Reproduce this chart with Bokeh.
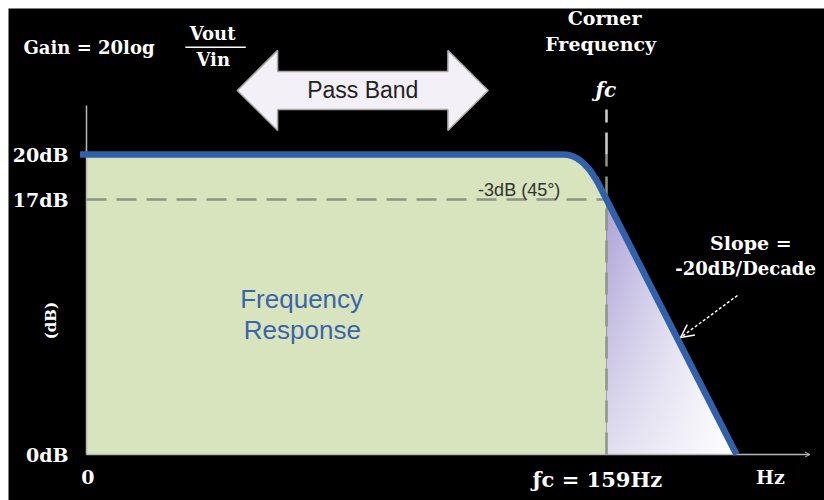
import numpy as np
from bokeh.plotting import figure
from bokeh.models import Label, Arrow, OpenHead, Range1d
from bokeh.embed import file_html
from bokeh.resources import INLINE

# ---------------- data ----------------
gain_ticks = [0, 17, 20]
gain_tick_labels = ["0dB", "17dB", "20dB"]
freq_ticks = [0.2, 105.2]
freq_tick_labels = ["0", "Hz"]
passband_gain_db = 20      # flat pass-band gain
cutoff_gain_db = 17        # -3 dB point
fc_pos = 80                # corner frequency position on the frequency scale
stop_pos = 100             # where the -20dB/decade roll-off reaches 0 dB
knee = [73.4, 79.0]        # start / end of the rounded knee
fc_label = "ƒc = 159Hz"

# ---------------- layout ----------------
W, H = 824, 500
PAD = 8                    # white border at top / left
PX_X, PX_Y = 6.5, 15.0     # pixels per unit
ORG_X, ORG_Y = 86, 454     # origin position (pixels from top-left of page)

p = figure(width=W, height=H, output_backend="svg", toolbar_location=None,
           x_range=Range1d((PAD - ORG_X) / PX_X, (W - ORG_X) / PX_X),
           y_range=Range1d((ORG_Y - H) / PX_Y, (ORG_Y - PAD) / PX_Y),
           x_axis_type=None, y_axis_type=None,
           min_border_left=PAD, min_border_top=PAD, min_border_right=0, min_border_bottom=0,
           background_fill_color="black", border_fill_color="white",
           outline_line_color=None)


def slope_y(x):
    return cutoff_gain_db * (stop_pos - np.asarray(x, float)) / (stop_pos - fc_pos)


# rounded knee (quadratic bezier)
knee_ctrl_x = stop_pos - passband_gain_db * (stop_pos - fc_pos) / cutoff_gain_db
t = np.linspace(0, 1, 16)
P0 = np.array([knee[0], passband_gain_db])
C = np.array([knee_ctrl_x, passband_gain_db])
P2 = np.array([knee[1], float(slope_y(knee[1]))])
bez = ((1 - t) ** 2)[:, None] * P0 + (2 * (1 - t) * t)[:, None] * C + (t ** 2)[:, None] * P2

# green pass-band area
gx = [0, 0] + list(bez[:, 0]) + [fc_pos, fc_pos]
gy = [0, passband_gain_db] + list(bez[:, 1]) + [cutoff_gain_db, 0]
p.patch(gx, gy, fill_color="#d7e4bd", line_color=None)

# purple gradient roll-off region
NX, NY = 130, 256
dw, dh = stop_pos - fc_pos, cutoff_gain_db
jj, ii = np.meshgrid(np.arange(NX), np.arange(NY))
xx = fc_pos + (jj + 0.5) / NX * dw
yy = (ii + 0.5) / NY * dh
u = (xx - fc_pos) / dw
v = yy / dh
s = np.clip((1 - u) * (0.35 + 0.65 * v), 0, 1)
purple = np.array([172, 162, 214])
img = np.zeros((NY, NX, 4), dtype=np.uint8)
for k in range(3):
    img[..., k] = (255 - s * (255 - purple[k])).astype(np.uint8)
img[..., 3] = np.where(yy <= slope_y(xx), 255, 0).astype(np.uint8)
p.image_rgba(image=[img.view(np.uint32).reshape(NY, NX)], x=fc_pos, y=0, dw=dw, dh=dh)

# axes lines
p.line([0, 0], [0, 23.27], line_color="#b8b8b8", line_width=1.5)
p.line([0, 111.2], [0, 0], line_color="#b8b8b8", line_width=1.5)
p.add_layout(Arrow(end=OpenHead(size=5, line_color="#b8b8b8", line_width=1),
                   x_start=108, y_start=0, x_end=111.3, y_end=0,
                   line_color="#b8b8b8", line_width=1))

# dashed guide lines
p.line([0, fc_pos], [cutoff_gain_db, cutoff_gain_db], line_color="#8d9480",
       line_width=2.5, line_dash="20 10")
p.line([fc_pos, fc_pos], [0, passband_gain_db], line_color="#8d9480",
       line_width=2.5, line_dash="22 10")
p.line([fc_pos, fc_pos], [passband_gain_db, 23.0], line_color="#d0d0d0",
       line_width=2.5, line_dash="22 10")

# response curve
lx = [-1.0, knee[0]] + list(bez[:, 0]) + [stop_pos]
ly = [passband_gain_db, passband_gain_db] + list(bez[:, 1]) + [0]
p.line(lx, ly, line_color="#3061aa", line_width=6.5, line_join="round")

# Pass band double arrow
ax0, ax1, acy = 23.2, 61.8, 24.27
bh, hh, hl = 1.27, 2.67, 6.2
arr_x = [ax0, ax0 + hl, ax0 + hl, ax1 - hl, ax1 - hl, ax1, ax1 - hl, ax1 - hl, ax0 + hl, ax0 + hl]
arr_y = [acy, acy + hh, acy + bh, acy + bh, acy + hh, acy, acy - hh, acy - bh, acy - bh, acy - hh]
p.patch(arr_x, arr_y, fill_color="#f3f0f8", line_color="#a8a8a8", line_width=1.5)

SERIF = "DejaVu Serif"
SANS = "Liberation Sans"


def lab(x, y, text, size, color="white", font=SERIF, style="bold",
        align="center", angle=0):
    p.add_layout(Label(x=x, y=y, text=text, text_font=font, text_font_size=f"{size}px",
                       text_font_style=style, text_color=color, text_align=align,
                       text_baseline="middle", angle=angle))


lab((ax0 + ax1) / 2, acy, "Pass Band", 23, color="#222222", font=SANS, style="normal")

# gain formula
lab(-9.7, 27.13, "Gain = 20log", 18, align="left")
lab(19.4, 28.1, "Vout", 18)
lab(19.5, 26.33, "Vin", 18)
p.line([15.2, 24.5], [27.15, 27.15], line_color="white", line_width=1.5)

# corner frequency labels
lab(fc_pos - 0.3, 29.13, "Corner", 19)
lab(fc_pos - 0.9, 27.4, "Frequency", 19)
lab(fc_pos - 0.1, 24.3, "ƒc", 20, style="bold italic")

# y tick labels
for yv, txt in zip(gain_ticks, gain_tick_labels):
    lab(-2.77, yv, txt, 19, align="right")
lab(-5.4, 8.93, "(dB)", 15, angle=np.pi / 2)

# x tick labels
for xv, txt in zip(freq_ticks, freq_tick_labels):
    lab(xv, -1.5, txt, 19)
lab(fc_pos - 1.4, -1.67, fc_label, 21)

# in-plot annotations
lab(72.9, 17.65, "-3dB (45°)", 18, color="#333333", font=SANS, style="normal",
    align="right")
lab(33.1, 10.4, "Frequency", 26, color="#3c64aa", font=SANS, style="normal")
lab(33.2, 8.27, "Response", 26, color="#3c64aa", font=SANS, style="normal")
lab(102.2, 14.07, "Slope =", 19)
lab(101.4, 12.4, "-20dB/Decade", 18)
p.add_layout(Arrow(end=OpenHead(size=13, line_color="white", line_width=1.5),
                   x_start=100.15, y_start=10.6, x_end=91.4, y_end=7.8,
                   line_color="white", line_width=1.5, line_dash="3 2"))

open("out.html", "w").write(file_html(p, INLINE))
